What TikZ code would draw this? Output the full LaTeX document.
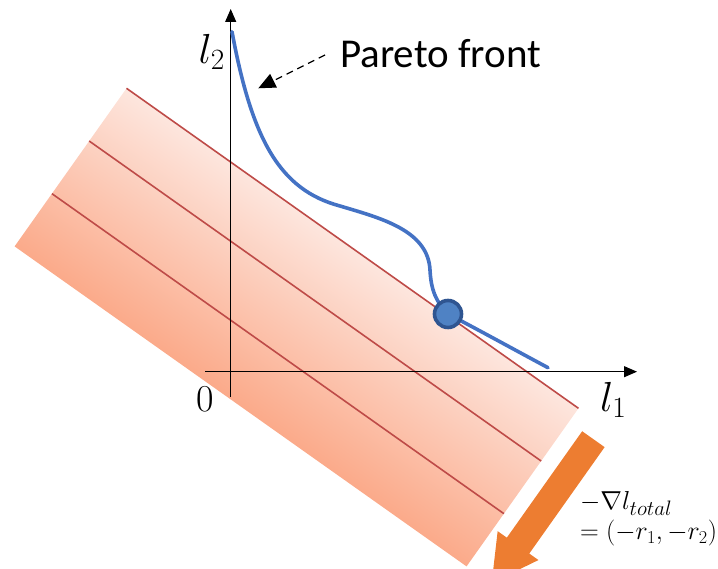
\RequirePackage{fix-cm}
\documentclass[tikz,border=0pt]{standalone}
\usepackage{fontspec}
\newfontfamily\carlito{Carlito}
\usetikzlibrary{arrows.meta}
\definecolor{bandtop}{RGB}{253,230,222}
\definecolor{bandbot}{RGB}{251,170,138}
\definecolor{redline}{RGB}{190,75,72}
\definecolor{pblue}{RGB}{68,114,196}
\definecolor{dotfill}{RGB}{79,130,196}
\definecolor{dotedge}{RGB}{47,85,145}
\definecolor{gradarrow}{RGB}{237,125,49}
\tikzset{
  contour/.style={draw=redline, line width=1.6pt},
  axisline/.style={draw=black, line width=1.1pt, -{Triangle[length=13pt,width=11pt]}},
  pareto/.style={draw=pblue, line width=3.6pt, line cap=round},
  optdot/.style={circle, draw=dotedge, fill=dotfill, line width=3.6pt, minimum size=27pt, inner sep=0pt},
  mathlbl/.style={inner sep=0pt, font=\fontsize{42}{42}\selectfont},
  gradlbl/.style={inner sep=0pt, anchor=base west, font=\fontsize{26}{26}\selectfont},
  callout/.style={draw=black, line width=1.2pt, dash pattern=on 7pt off 5pt, -{Triangle[length=17pt,width=15pt]}}
}
\begin{document}
\begin{tikzpicture}[x=1pt,y=1pt]
\useasboundingbox (0,0) rectangle (718,569);
% shaded band with level lines
\begin{scope}[transform canvas={shift={(14.6,322.6)},rotate=-35.3}]
  \shade[top color=bandtop, bottom color=bandbot] (0,0) rectangle (553.8,193.7);
  \draw[contour] (0,193.7) -- (553.8,193.7);
  \draw[contour] (0,129.1) -- (553.8,129.1);
  \draw[contour] (0,64.6) -- (553.8,64.6);
\end{scope}
% orange gradient arrow
\begin{scope}
  \clip (0,0) rectangle (718,569);
  \fill[gradarrow, shift={(593.4,129.8)}, rotate=234.7]
    (0,13.75) -- (130.4,13.75) -- (130.4,25) -- (176,0) -- (130.4,-25) -- (130.4,-13.75) -- (0,-13.75) -- cycle;
\end{scope}
% axes
\coordinate (ybot) at (230.7,172);
\coordinate (ytop) at (230.7,560);
\coordinate (xleft) at (205,197.3);
\coordinate (xright) at (637,197.3);
\draw[axisline] (ybot) -- (ytop);
\draw[axisline] (xleft) -- (xright);
% pareto front
\draw[pareto] (232,537.3) .. controls (252,429) and (280,379) .. (340,363)
  .. controls (380,351) and (428,339) .. (430,299)
  .. controls (431,279) and (436,267) .. (448,255)
  .. controls (475,241) and (515,219) .. (548,201.3);
\node[optdot] (opt) at (448,255) {};
% labels
\node[mathlbl, anchor=base west] (l2) at (198.3,505.7) {$l_2$};
\node[mathlbl, anchor=base west] (l1) at (600,157.3) {$l_1$};
\node[inner sep=0pt, anchor=base west, font=\fontsize{38}{38}\selectfont] (zero) at (196,157.3) {$0$};
\node[inner sep=0pt, anchor=base west, font=\carlito\fontsize{41}{41}\selectfont] (pf) at (340,501) {Pareto front};
\coordinate (pfstart) at (325,514);
\coordinate (pftip) at (258.3,480.7);
\draw[callout] (pfstart) -- (pftip);
\node[gradlbl] (grad1) at (580,59) {$-\nabla l_{\scalebox{1.15}{$\scriptstyle total$}}$};
\node[gradlbl] (grad2) at (580,29) {$= (-r_1, -r_2)$};
\end{tikzpicture}
\end{document}
